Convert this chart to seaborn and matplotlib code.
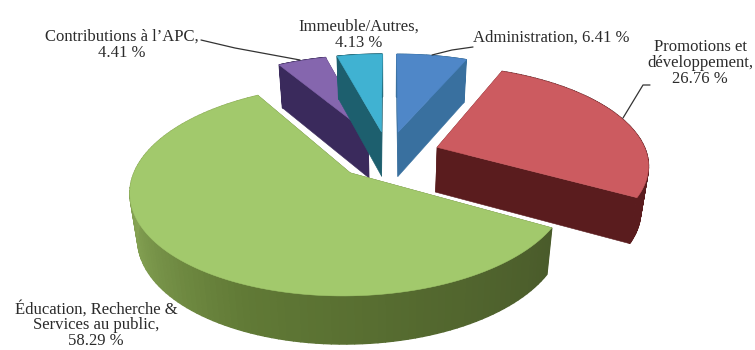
import numpy as np
import matplotlib
matplotlib.use("Agg")
import matplotlib.pyplot as plt
from matplotlib.patches import Polygon
import seaborn as sns

labels = ["Administration, 6.41 %", "Promotions et\ndéveloppement,\n26.76 %",
          "Éducation, Recherche &\nServices au public,\n58.29 %",
          "Contributions à l’APC,\n4.41 %", "Immeuble/Autres,\n4.13 %"]
shares = [6.41, 26.76, 58.29, 4.41, 4.13]
top_colors = ["#4f87c8", "#cc5b60", "#a2c96c", "#8566ae", "#40b2d2"]
cut_colors = ["#39709f", "#5a1c1e", "#55692f", "#3a2a5c", "#1d5f6e"]
rim_colors = [["#39709f", "#39709f"], ["#5a1c1e", "#5a1c1e"],
              ["#4a5b2b", "#54692f", "#617a36", "#7f9c4f", "#8caa58", "#86a450"],
              ["#3a2a5c", "#3a2a5c"], ["#1d5f6e", "#1d5f6e"]]
draw_order = [3, 4, 0, 1, 2]

# Projection of the tilted disc onto the page, in pixel units
CX, CY, A, B, K = 388.0, 155.0, 210.0, 97.0, 0.16
DEPTH = 45.0
EXPLODE = 0.25
BASE_SHRINK = 0.03


def project(x, y, drop=0.0):
    s = 1.0 / (1.0 + K * y)
    px = CX + A * x * s * (1 - BASE_SHRINK * drop)
    py = CY - B * y * s + drop * DEPTH * (1 + 0.3 * (s - 1))
    return px, py


sns.set_theme(style="white")
plt.rcParams["font.family"] = ["Liberation Serif", "DejaVu Serif"]

fig = plt.figure(figsize=(7.55, 3.5), dpi=100)
ax = fig.add_axes([0, 0, 1, 1])
ax.set_xlim(0, 755)
ax.set_ylim(350, 0)
ax.axis("off")

edges = np.concatenate([[0], np.cumsum(shares)]) / np.sum(shares) * 2 * np.pi

for i in draw_order:
    t0, t1 = edges[i], edges[i + 1]
    mid = (t0 + t1) / 2
    ox, oy = EXPLODE * np.sin(mid), EXPLODE * np.cos(mid)
    theta = np.linspace(t0, t1, 120)
    rx, ry = ox + np.sin(theta), oy + np.cos(theta)

    # the two cut faces running from the apex to the rim
    for t in (t0, t1):
        ex, ey = ox + np.sin(t), oy + np.cos(t)
        quad = [project(ox, oy), project(ex, ey), project(ex, ey, 1), project(ox, oy, 1)]
        ax.add_patch(Polygon(quad, closed=True, fc=cut_colors[i], ec=cut_colors[i], lw=0.4))

    # the curved outer wall, shaded strip by strip
    shades = sns.blend_palette(rim_colors[i], n_colors=len(theta) - 1)
    for j in range(len(theta) - 1):
        quad = [project(rx[j], ry[j]), project(rx[j + 1], ry[j + 1]),
                project(rx[j + 1], ry[j + 1], 1), project(rx[j], ry[j], 1)]
        ax.add_patch(Polygon(quad, closed=True, fc=shades[j], ec=shades[j], lw=1.0))

    # the top of the slice
    px, py = project(np.r_[ox, rx], np.r_[oy, ry])
    ax.add_patch(Polygon(np.c_[px, py], closed=True, fc=top_colors[i], ec=top_colors[i], lw=0.4))

# leader lines from labels to slices
ink = "#2b2b2b"
for xs, ys in [([432, 452, 473], [55, 50, 47]), ([623, 643, 650], [118, 85, 85]),
               ([300, 235, 201], [60, 48, 40])]:
    ax.plot(xs, ys, color="#333333", lw=0.9)

text_style = dict(fontsize=12, color=ink, linespacing=1.0, ha="center", va="center")
ax.text(551, 38, labels[0], **text_style)
ax.text(700, 63, labels[1], **text_style)
ax.text(96, 325, labels[2], **text_style)
ax.text(122, 45, labels[3], **text_style)
ax.text(359, 35, labels[4], **text_style)

fig.savefig("out.png", dpi=100, facecolor="white")
